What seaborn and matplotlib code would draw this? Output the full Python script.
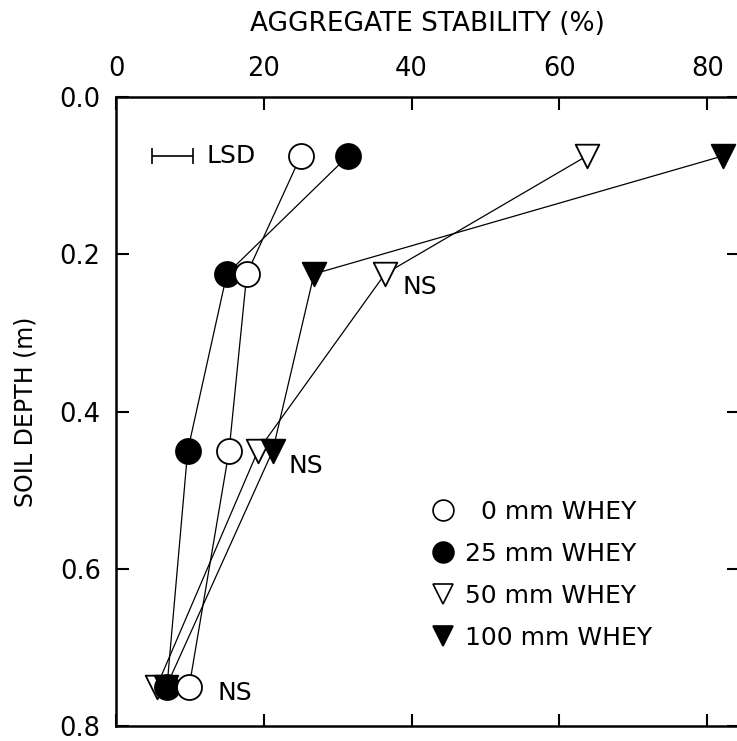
import pandas as pd
import matplotlib
matplotlib.use('Agg')
import matplotlib.pyplot as plt
import seaborn as sns
from matplotlib.lines import Line2D

sns.set_style('ticks')
plt.rcParams['font.family'] = ['DejaVu Sans']
plt.rcParams['text.color'] = 'black'
plt.rcParams['axes.labelcolor'] = 'black'
plt.rcParams['xtick.color'] = 'black'
plt.rcParams['ytick.color'] = 'black'
plt.rcParams['axes.edgecolor'] = 'black'

# Profondeurs (m) et stabilite des agregats (%)
depth = [0.075, 0.225, 0.45, 0.75]
whey0 = [25.0, 17.7, 15.3, 9.9]
whey25 = [31.4, 15.0, 9.7, 6.9]
whey50 = [63.7, 36.4, 19.2, 5.5]
whey100 = [82.1, 26.8, 21.2, 6.8]
labels = ['  0 mm WHEY', '25 mm WHEY', '50 mm WHEY', '100 mm WHEY']

# LSD et NS
lsd_center, lsd_half, lsd_depth = 7.65, 2.75, 0.075
ns_x = [38.8, 23.3, 13.8]
ns_y = [0.242, 0.469, 0.758]

xticks = [0, 20, 40, 60, 80]
yticks = [0.0, 0.2, 0.4, 0.6, 0.8]

series = [whey0, whey25, whey50, whey100]
markers = ['o', 'o', 'v', 'v']
faces = ['white', 'black', 'white', 'black']
sizes = [18, 18, 17, 17]
zorders = [6, 5, 3, 4]

df = pd.concat([pd.DataFrame({'stab': s, 'depth': depth, 'trt': lab})
                for s, lab in zip(series, labels)])

fig = plt.figure(figsize=(7.37, 7.41), dpi=100)
ax = fig.add_axes([116 / 737, 15 / 741, 623 / 737, 629 / 741])

# lignes
for lab in labels:
    sub = df[df['trt'] == lab]
    sns.lineplot(data=sub, x='stab', y='depth', sort=False, estimator=None,
                 color='black', lw=0.9, ax=ax, zorder=2)

# marqueurs
for lab, m, fc, ms, z in zip(labels, markers, faces, sizes, zorders):
    sub = df[df['trt'] == lab]
    sns.scatterplot(data=sub, x='stab', y='depth', marker=m, s=ms ** 2,
                    color=fc, edgecolor='black', linewidth=1.3, ax=ax,
                    zorder=z, legend=False)

# LSD
ax.errorbar(lsd_center, lsd_depth, xerr=lsd_half, color='black', lw=1.2,
            capsize=5.5, capthick=1.2)
ax.text(12.3, lsd_depth, 'LSD', va='center', ha='left', fontsize=18)

for x, y in zip(ns_x, ns_y):
    ax.text(x, y, 'NS', va='center', ha='left', fontsize=18)

ax.set_xlim(0, 84.3)
ax.set_ylim(0.8, 0.0)
ax.set_xticks(xticks)
ax.set_yticks(yticks)
ax.set_yticklabels(['%.1f' % v for v in yticks])

ax.xaxis.set_label_position('top')
ax.set_xlabel('AGGREGATE STABILITY (%)', fontsize=19, labelpad=18)
ax.set_ylabel('SOIL DEPTH (m)', fontsize=17, labelpad=16)

ax.tick_params(axis='x', top=True, bottom=True, labeltop=True,
               labelbottom=False, direction='in', length=9, width=1.5,
               pad=11, labelsize=18.5)
ax.tick_params(axis='y', left=True, right=True, labelleft=True,
               direction='in', length=9, width=1.5, pad=11, labelsize=18.5)
for sp in ax.spines.values():
    sp.set_linewidth(1.8)
    sp.set_visible(True)

handles = [Line2D([], [], marker=m, ls='none', mfc=fc, mec='black',
                  mew=1.2, ms=15)
           for m, fc in zip(markers, faces)]
ax.legend(handles, labels, loc='upper left', bbox_to_anchor=(0.5, 0.36),
          frameon=False, handletextpad=0.3, labelspacing=0.72, fontsize=18,
          borderaxespad=0, borderpad=0, handlelength=1.2)

fig.savefig('out.png', dpi=100)
